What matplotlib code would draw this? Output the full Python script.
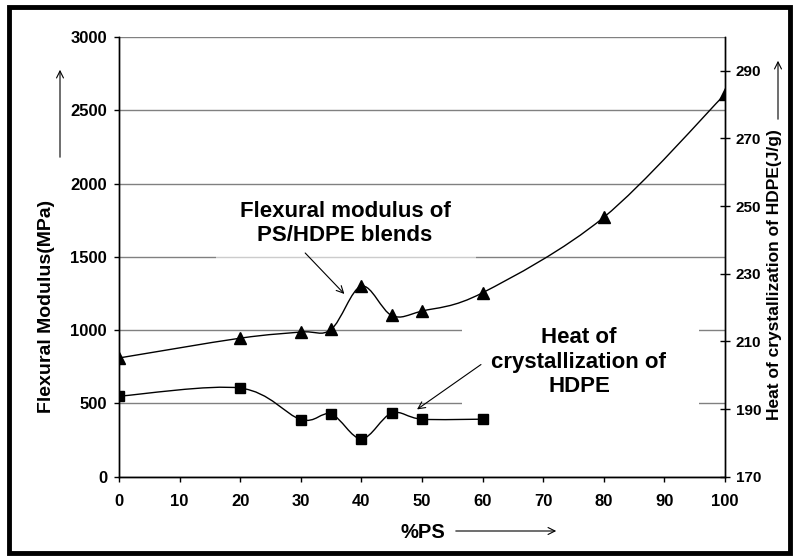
import numpy as np
import matplotlib
matplotlib.use("Agg")
import matplotlib.pyplot as plt
from matplotlib.path import Path
from matplotlib.patches import PathPatch, Rectangle

# fonts: Arial look-alike, everything bold
plt.rcParams['font.family'] = ['Liberation Sans', 'DejaVu Sans']
plt.rcParams['font.weight'] = 'bold'

# data
ps_flex = [0, 20, 30, 35, 40, 45, 50, 60, 80, 100]
flex_modulus = [810, 945, 987, 1005, 1300, 1100, 1130, 1255, 1770, 2610]   # MPa, left axis

ps_heat = [0, 20, 30, 35, 40, 45, 50, 60]
heat_cryst = [193.8, 196.2, 186.9, 188.5, 181.2, 188.8, 187.0, 187.0]     # J/g, right axis

x_ticks = list(range(0, 101, 10))
left_ticks = [0, 500, 1000, 1500, 2000, 2500, 3000]
right_ticks = [170, 190, 210, 230, 250, 270, 290]


def smooth_path(xs, ys):
    # excel style smoothed line: bezier segments through the points
    pts = np.column_stack([xs, ys]).astype(float)
    n = len(pts)
    verts = [pts[0]]
    codes = [Path.MOVETO]
    for i in range(n - 1):
        p_prev = pts[max(i - 1, 0)]
        p_next2 = pts[min(i + 2, n - 1)]
        c1 = pts[i] + (pts[i + 1] - p_prev) / 6
        c2 = pts[i + 1] - (p_next2 - pts[i]) / 6
        verts += [c1, c2, pts[i + 1]]
        codes += [Path.CURVE4] * 3
    return Path(verts, codes)


fig = plt.figure(figsize=(7.93, 5.57), dpi=100)
ax = fig.add_axes([0.1501, 0.1442, 0.7642, 0.7894])
ax2 = ax.twinx()

# left axis - flexural modulus
ax.set_xlim(0, 100)
ax.set_ylim(0, 3000)
ax.set_xticks(x_ticks)
ax.set_yticks(left_ticks)
ax.set_axisbelow(True)
ax.yaxis.grid(True, color='#808080', lw=1)
ax.add_patch(PathPatch(smooth_path(ps_flex, flex_modulus), fill=False, lw=1, edgecolor='black', zorder=3))
ax.plot(ps_flex, flex_modulus, ls='none', marker='^', ms=9, color='black', zorder=4)

# right axis - heat of crystallization
ax2.set_ylim(170, 300)
ax2.set_yticks(right_ticks)
ax2.add_patch(PathPatch(smooth_path(ps_heat, heat_cryst), fill=False, lw=1, edgecolor='black', zorder=3))
ax2.plot(ps_heat, heat_cryst, ls='none', marker='s', ms=7, color='black', zorder=4)

for a in (ax, ax2):
    a.spines['top'].set_visible(False)
    for s in ('left', 'right', 'bottom'):
        a.spines[s].set_linewidth(1)
ax.tick_params(axis='y', direction='out', length=3.6, width=1, pad=5, labelsize=12)
ax.tick_params(axis='x', direction='out', length=3.6, width=1, pad=9, labelsize=12)
ax2.tick_params(axis='y', direction='inout', length=7.2, width=1, pad=4, labelsize=11)
for lab in ax.get_xticklabels() + ax.get_yticklabels() + ax2.get_yticklabels():
    lab.set_fontweight('bold')

# white text boxes hiding the gridlines
ax.add_patch(Rectangle((0.160, 0.488), 0.429, 0.159, transform=ax.transAxes,
                       facecolor='white', edgecolor='none', alpha=0.6, zorder=1))
ax.add_patch(Rectangle((0.566, 0.147), 0.391, 0.214, transform=ax.transAxes,
                       facecolor='white', edgecolor='none', zorder=1))

# annotations
ax.text(37.3, 1727, 'Flexural modulus of\nPS/HDPE blends', ha='center', va='center',
        fontsize=16, linespacing=1.2, zorder=5)
ax.annotate('', xy=(37.5, 1233), xytext=(30.4, 1540),
            arrowprops=dict(arrowstyle='->,head_length=0.5,head_width=0.25', lw=0.8, color='black'))
ax.text(75.9, 782, 'Heat of\ncrystallization of\nHDPE', ha='center', va='center',
        fontsize=16, linespacing=1.2, zorder=5)
ax.annotate('', xy=(48.8, 448), xytext=(60.1, 776),
            arrowprops=dict(arrowstyle='->,head_length=0.5,head_width=0.25', lw=0.8, color='black'))

# axis titles with their little arrows
fig.text(47 / 793, 1 - 306.5 / 557, 'Flexural Modulus(MPa)', rotation=90,
         ha='center', va='center', fontsize=14)
fig.text(775 / 793, 1 - 275 / 557, 'Heat of crystallization of HDPE(J/g)', rotation=90,
         ha='center', va='center', fontsize=12.5)
fig.text(422.5 / 793, 1 - 532 / 557, '%PS', ha='center', va='center', fontsize=14.5)

arrow_style = dict(arrowstyle='->,head_length=0.5,head_width=0.25', lw=0.8, color='black')
ax.annotate('', xy=(60, 557 - 67), xytext=(60, 557 - 160), xycoords='figure pixels',
            arrowprops=arrow_style, annotation_clip=False)
ax.annotate('', xy=(778, 557 - 58), xytext=(778, 557 - 122), xycoords='figure pixels',
            arrowprops=arrow_style, annotation_clip=False)
ax.annotate('', xy=(559, 557 - 531), xytext=(453, 557 - 531), xycoords='figure pixels',
            arrowprops=arrow_style, annotation_clip=False)

# thick frame around the whole chart
fig.add_artist(Rectangle((9 / 793, 1 - 552.5 / 557), 781 / 793, 546 / 557,
                         transform=fig.transFigure, fill=False, lw=3.5, edgecolor='black'))

fig.savefig('out.png', dpi=100)
